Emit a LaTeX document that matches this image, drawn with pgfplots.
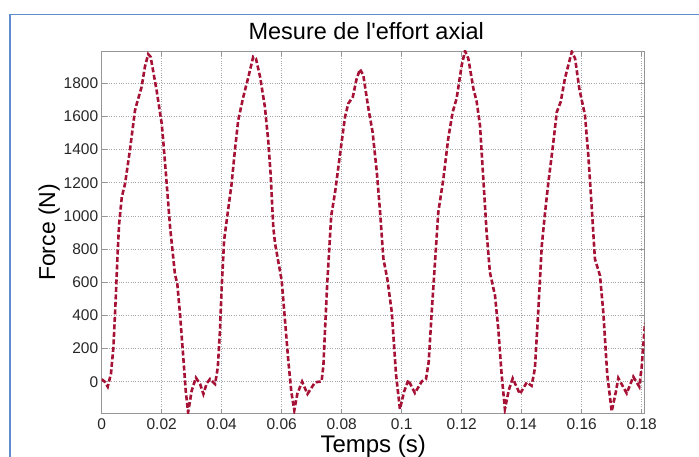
\documentclass[border=0pt]{standalone}
\usepackage{fontspec}
\setmainfont{Liberation Sans}[Ligatures=TeXOff]
\usepackage{pgfplots}
\pgfplotsset{compat=1.18}
\definecolor{curve}{RGB}{165,18,54}
\definecolor{frame}{RGB}{95,140,205}
\definecolor{axgray}{RGB}{150,150,150}
\begin{document}
\begin{tikzpicture}
\useasboundingbox (0pt,0pt) rectangle (699pt,456pt);
\draw[frame, line width=1.6pt] (10pt,-10pt) -- (10pt,441.5pt) -- (720pt,441.5pt);
\begin{axis}[
  at={(101.7pt,42.3pt)}, anchor=south west,
  scale only axis, width=543pt, height=362.7pt,
  xmin=0, xmax=0.1810, ymin=-193, ymax=1995,
  xtick={0,0.02,0.04,0.06,0.08,0.1,0.12,0.14,0.16,0.18},
  xticklabels={0,0.02,0.04,0.06,0.08,0.1,0.12,0.14,0.16,0.18},
  ytick={0,200,400,600,800,1000,1200,1400,1600,1800},
  yticklabels={0,200,400,600,800,1000,1200,1400,1600,1800},
  tick align=inside, major tick length=5pt,
  xtick pos=both, ytick pos=both,
  axis line style={axgray, line width=0.8pt},
  every tick/.style={axgray, line width=0.6pt},
  grid=major, major grid style={black!35, dotted, line width=0.6pt},
  ticklabel style={font=\fontsize{15.5}{18}\selectfont, text=black!85},
  xticklabel style={yshift=-1pt},
  title={Mesure de l'effort axial},
  title style={font=\fontsize{23.5}{27}\selectfont, at={(axis description cs:0.5,1)}, anchor=base, yshift=5pt, xshift=-7pt},
  xlabel={Temps (s)},
  xlabel style={font=\fontsize{24}{28}\selectfont, at={(axis description cs:0.5,0)}, anchor=base, yshift=-38.5pt},
  ylabel={Force (N)},
  ylabel style={font=\fontsize{23}{27}\selectfont, at={(axis description cs:0,0.5)}, anchor=base, yshift=46.7pt},
]
\addplot[curve, line width=2.6pt, dash pattern=on 5pt off 2.5pt] coordinates {
(0.0000,15) (0.0010,0) (0.0020,-30) (0.0031,50) (0.0039,207) (0.0047,510)
(0.0053,773) (0.0058,950) (0.0067,1114) (0.0078,1196) (0.0094,1396)
(0.0111,1637) (0.0117,1678) (0.0133,1778) (0.0144,1899) (0.0155,1976)
(0.0163,1960) (0.0183,1758) (0.0200,1557) (0.0205,1456) (0.0214,1255)
(0.0228,932) (0.0244,651) (0.0252,590) (0.0261,409) (0.0272,147)
(0.0280,-54) (0.0288,-185) (0.0300,-54) (0.0314,24) (0.0328,-14)
(0.0339,-74) (0.0350,-10) (0.0361,16) (0.0378,-14) (0.0387,86)
(0.0394,300) (0.0400,570) (0.0408,852) (0.0415,950) (0.0433,1194)
(0.0444,1396) (0.0455,1577) (0.0472,1718) (0.0489,1839) (0.0505,1960)
(0.0514,1950) (0.0528,1839) (0.0544,1657) (0.0555,1456) (0.0563,1255)
(0.0572,932) (0.0578,832) (0.0594,671) (0.0600,610) (0.0611,369)
(0.0622,127) (0.0632,-60) (0.0642,-173) (0.0652,-74) (0.0668,0)
(0.0686,-74) (0.0711,-4) (0.0733,2) (0.0739,97) (0.0744,300)
(0.0752,600) (0.0765,1000) (0.0778,1144) (0.0794,1366) (0.0811,1597)
(0.0822,1678) (0.0837,1718) (0.0850,1829) (0.0861,1885) (0.0872,1849)
(0.0889,1648) (0.0903,1506) (0.0917,1265) (0.0928,1023) (0.0939,741)
(0.0952,621) (0.0967,419) (0.0981,46) (0.0994,-165) (0.1008,-60)
(0.1022,10) (0.1044,-68) (0.1067,2) (0.1081,16) (0.1090,120)
(0.1100,419) (0.1111,721) (0.1122,1023) (0.1139,1225) (0.1155,1466)
(0.1170,1627) (0.1183,1708) (0.1200,1909) (0.1211,1995) (0.1222,1950)
(0.1239,1768) (0.1250,1688) (0.1261,1547) (0.1272,1225) (0.1283,902)
(0.1294,660) (0.1311,520) (0.1322,318) (0.1333,46) (0.1344,-165)
(0.1357,-50) (0.1370,20) (0.1394,-74) (0.1417,-4) (0.1433,-24)
(0.1444,80) (0.1455,419) (0.1467,822) (0.1478,1023) (0.1489,1204)
(0.1503,1406) (0.1517,1627) (0.1530,1688) (0.1544,1829) (0.1567,1990)
(0.1578,1950) (0.1592,1768) (0.1611,1607) (0.1622,1366) (0.1633,1063)
(0.1644,741) (0.1661,640) (0.1672,419) (0.1685,46) (0.1700,-179)
(0.1714,-60) (0.1722,22) (0.1750,-70) (0.1772,30) (0.1792,-30)
(0.1800,90) (0.1811,354)
};
\end{axis}
\end{tikzpicture}
\end{document}
